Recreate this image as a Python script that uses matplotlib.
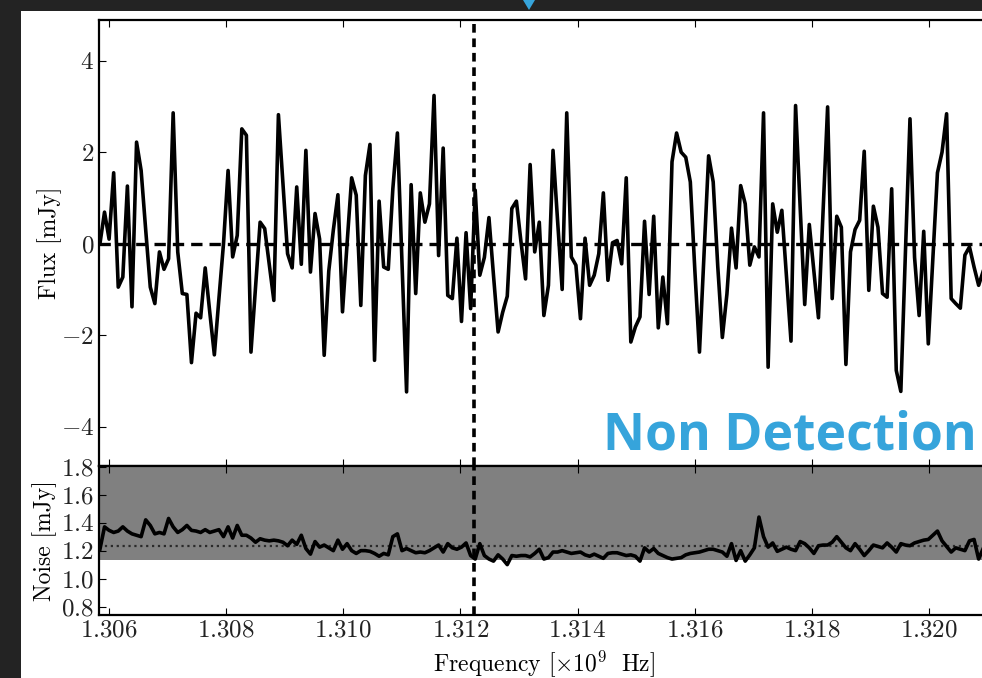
import numpy as np
import matplotlib.pyplot as plt
from matplotlib.patches import Rectangle, Polygon

plt.rcParams['font.family'] = 'serif'
plt.rcParams['font.serif'] = ['cmr10']
plt.rcParams['mathtext.fontset'] = 'cm'
plt.rcParams['axes.formatter.use_mathtext'] = True

# spectrum: 78.125 kHz channels, frequency in units of 1e9 Hz
freq_start = 1.305846
chan_width = 7.8125e-5
line_freq = 1.31223

flux = [0.0, 0.69, 0.1, 1.55, -0.95, -0.73, 1.26, -1.38, 2.22, 1.60,
	0.3, -0.95, -1.31, -0.18, -0.56, -0.33, 2.86, -0.18, -1.09, -1.11,
	-2.6, -1.52, -1.62, -0.53, -1.5, -2.43, -1.2, 0.0, 1.6, -0.29,
	0.18, 2.51, 2.37, -2.37, -0.95, 0.47, 0.33, -0.45, -1.24, 2.82,
	1.3, -0.22, -0.53, 1.24, -0.45, 2.04, -0.62, 0.66, 0.1, -2.44,
	-0.6, 0.3, 1.07, -1.49, 0.0, 1.44, 1.06, -1.35, 1.49, 2.17,
	-2.55, 0.93, -0.51, -0.56, 1.2, 2.42, -0.4, -3.24, 1.29, -1.09,
	1.11, 0.47, 0.87, 3.24, -0.26, 2.09, -1.13, -1.2, 0.12, -1.7,
	0.24, -1.42, 1.17, -0.69, -0.3, 0.57, -0.7, -1.93, -1.5, -1.15,
	0.77, 0.93, 0.04, -0.77, 1.73, -0.18, 0.47, -1.57, -0.91, 2.04,
	0.5, -1.0, 2.86, -0.29, -0.47, -1.64, 0.12, -0.91, -0.69, -0.22,
	1.11, -0.8, 0.02, 0.07, -0.44, 1.44, -2.15, -1.82, -1.6, 0.49,
	-1.11, 0.6, -1.84, -0.73, -1.75, 1.79, 2.42, 2.0, 1.89, 1.35,
	-0.6, -2.37, -0.2, 1.92, 1.35, -0.5, -2.05, -1.1, 0.34, -0.53,
	1.27, 0.87, -0.47, -0.07, -0.29, 2.86, -2.7, 0.87, 0.25, 0.73,
	-0.7, -2.13, 3.02, 0.8, -1.33, 0.42, -0.6, -1.62, 0.7, 2.99,
	-1.2, 0.6, 0.36, -2.64, -0.18, 0.31, 0.51, 2.02, -1.02, 0.82,
	0.36, -1.09, -1.17, 1.2, -2.77, -3.23, -0.2, 2.73, -0.3, -1.57,
	0.27, -2.19, -0.3, 1.55, 2.0, 2.84, -1.2, -1.31, -1.41, -0.25,
	-0.07, -0.51, -0.91, -0.6, -0.3]

noise = [1.21, 1.37, 1.345, 1.33, 1.34, 1.37, 1.34, 1.32, 1.31, 1.30,
	1.42, 1.38, 1.32, 1.33, 1.32, 1.43, 1.37, 1.33, 1.35, 1.38,
	1.345, 1.34, 1.33, 1.35, 1.33, 1.34, 1.35, 1.30, 1.37, 1.29,
	1.38, 1.31, 1.31, 1.29, 1.26, 1.285, 1.275, 1.27, 1.275, 1.27,
	1.26, 1.235, 1.275, 1.245, 1.31, 1.215, 1.175, 1.265, 1.225, 1.24,
	1.22, 1.20, 1.275, 1.21, 1.25, 1.20, 1.18, 1.20, 1.20, 1.195,
	1.18, 1.16, 1.18, 1.17, 1.30, 1.32, 1.20, 1.215, 1.20, 1.185,
	1.19, 1.185, 1.20, 1.22, 1.24, 1.19, 1.25, 1.22, 1.21, 1.225,
	1.255, 1.165, 1.14, 1.25, 1.165, 1.14, 1.125, 1.17, 1.14, 1.10,
	1.165, 1.16, 1.165, 1.165, 1.155, 1.18, 1.21, 1.14, 1.15, 1.19,
	1.19, 1.20, 1.19, 1.18, 1.185, 1.19, 1.17, 1.16, 1.175, 1.16,
	1.145, 1.18, 1.185, 1.185, 1.175, 1.165, 1.17, 1.16, 1.125, 1.22,
	1.19, 1.215, 1.18, 1.165, 1.15, 1.14, 1.145, 1.15, 1.17, 1.18,
	1.185, 1.19, 1.20, 1.21, 1.21, 1.20, 1.19, 1.16, 1.25, 1.13,
	1.20, 1.125, 1.17, 1.22, 1.44, 1.30, 1.225, 1.255, 1.195, 1.21,
	1.225, 1.21, 1.20, 1.265, 1.25, 1.22, 1.18, 1.235, 1.24, 1.24,
	1.26, 1.30, 1.26, 1.22, 1.20, 1.25, 1.21, 1.165, 1.20, 1.24,
	1.23, 1.22, 1.255, 1.225, 1.19, 1.25, 1.24, 1.235, 1.255, 1.265,
	1.275, 1.28, 1.31, 1.34, 1.27, 1.23, 1.19, 1.22, 1.21, 1.20,
	1.27, 1.28, 1.14, 1.215, 1.22]

noise_median = 1.233
band_lo = 1.13
band_hi = 1.95

freq_ticks = [1.306, 1.308, 1.310, 1.312, 1.314, 1.316, 1.318, 1.320]
flux_ticks = [-4, -2, 0, 2, 4]
noise_ticks = [0.8, 1.0, 1.2, 1.4, 1.6, 1.8]

W, H = 982.0, 678.0


def style(ax):
	ax.tick_params(direction='in', top=True, right=True, length=5, width=0.8,
		labelsize=18, labelcolor='#222222')
	for s in ax.spines.values():
		s.set_linewidth(1.6)


freq = freq_start + chan_width * np.arange(len(flux))

fig = plt.figure(figsize=(9.82, 6.78), dpi=100, facecolor='#232323')
fig.patches.append(Rectangle((21 / W, 0), 1, 1 - 11 / H, transform=fig.transFigure,
	facecolor='white', edgecolor='none', zorder=-10))
fig.patches.append(Polygon([(523 / W, 1), (535 / W, 1), (529 / W, 1 - 10 / H)],
	closed=True, transform=fig.transFigure, facecolor='#36a4db', edgecolor='none',
	zorder=-5))

ax1 = fig.add_axes([99 / W, 1 - 466 / H, 891 / W, 446 / H])
ax2 = fig.add_axes([99 / W, 1 - 615 / H, 891 / W, 149 / H], sharex=ax1)

# flux panel
ax1.plot(freq, flux, color='k', lw=2.6)
ax1.axhline(0, color='k', lw=2.4, ls=(0, (3.4, 2.1)))
ax1.axvline(line_freq, color='k', lw=2.6, ls=(0, (2.4, 1.6)))
ax1.set_ylim(-4.86, 4.89)
ax1.set_yticks(flux_ticks)
ax1.set_ylabel('Flux [mJy]', fontsize=17)
ax1.yaxis.set_label_coords(-0.041, 0.5)
style(ax1)
ax1.tick_params(labelbottom=False)

# noise panel
ax2.axhspan(band_lo, band_hi, color='#808080', lw=0)
ax2.axhline(noise_median, color='#2a2a2a', lw=1.6, ls=':')
ax2.plot(freq, noise, color='k', lw=2.6)
ax2.axvline(line_freq, color='k', lw=2.6, ls=(0, (2.4, 1.6)))
ax2.set_ylim(0.74, 1.805)
ax2.set_yticks(noise_ticks)
ax2.set_xticks(freq_ticks)
ax2.set_xlim(1.30583, 1.32104)
ax2.ticklabel_format(axis='x', useOffset=False)
ax2.set_ylabel('Noise [mJy]', fontsize=17)
ax2.yaxis.set_label_coords(-0.047, 0.5)
ax2.set_xlabel(r'Frequency $[\times10^{9}\ \ \mathrm{Hz}]$', fontsize=17)
ax2.xaxis.set_label_coords(0.5, -0.225)
style(ax2)

fig.text(603 / W, 1 - 450 / H, 'Non Detection', color='#36a4db', fontsize=37.2,
	fontweight='bold', family=['Open Sans', 'DejaVu Sans'], va='baseline', ha='left')

fig.savefig('out.png', dpi=100, facecolor=fig.get_facecolor())
